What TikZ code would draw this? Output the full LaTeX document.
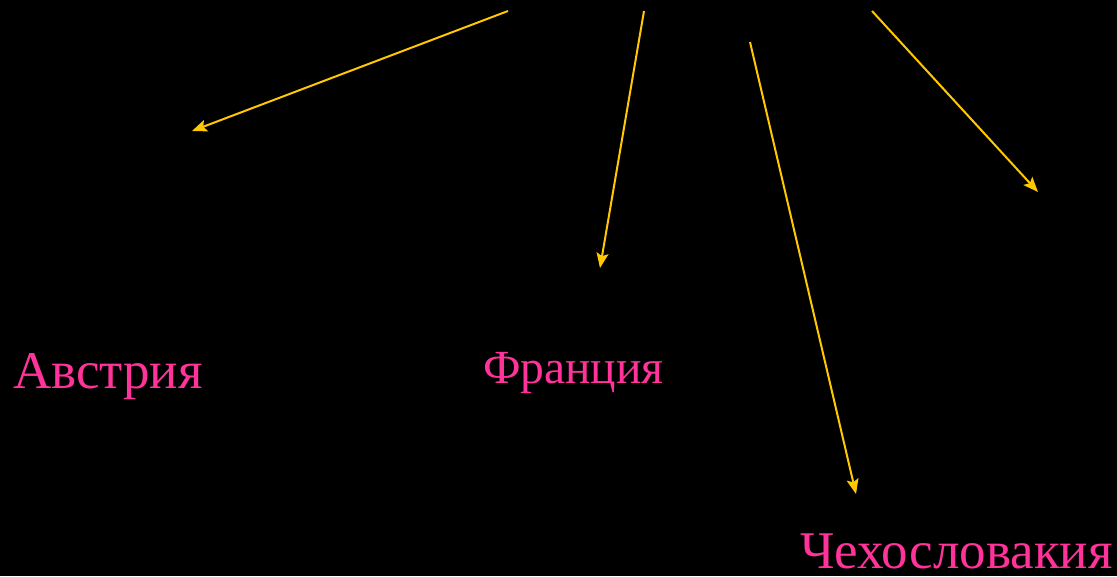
\documentclass[tikz,border=0pt]{standalone}
\usepackage{fontspec}
\setmainfont{Liberation Serif}
\usetikzlibrary{arrows.meta}
\definecolor{arrowyellow}{HTML}{FFC800}
\definecolor{labelpink}{HTML}{FF3399}
\tikzset{
  pointer/.style={draw=arrowyellow, line width=2pt, -{Stealth[length=15pt,width=12pt,inset=3pt]}},
  country/.style={text=labelpink, anchor=base west, inner sep=0pt, text depth=0pt},
}
\begin{document}
\begin{tikzpicture}[x=1pt,y=-1pt]
\fill[black] (0,0) rectangle (1117,576);
\useasboundingbox (0,0) rectangle (1117,576);
\coordinate (s1) at (508,11);
\coordinate (e1) at (192,131);
\coordinate (s2) at (644,11);
\coordinate (e2) at (600,268);
\coordinate (s3) at (750,42);
\coordinate (e3) at (856,494);
\coordinate (s4) at (872,11);
\coordinate (e4) at (1038,192);
\draw[pointer] (s1) -- (e1);
\draw[pointer] (s2) -- (e2);
\draw[pointer] (s3) -- (e3);
\draw[pointer] (s4) -- (e4);
\node[country, font=\fontsize{53}{60}\selectfont] (austria) at (13,388) {Австрия};
\node[country, font=\fontsize{47.5}{56}\selectfont] (france) at (483,383) {Франция};
\node[country, font=\fontsize{53}{60}\selectfont] (czech) at (800,568) {Чехословакия};
\end{tikzpicture}
\end{document}
